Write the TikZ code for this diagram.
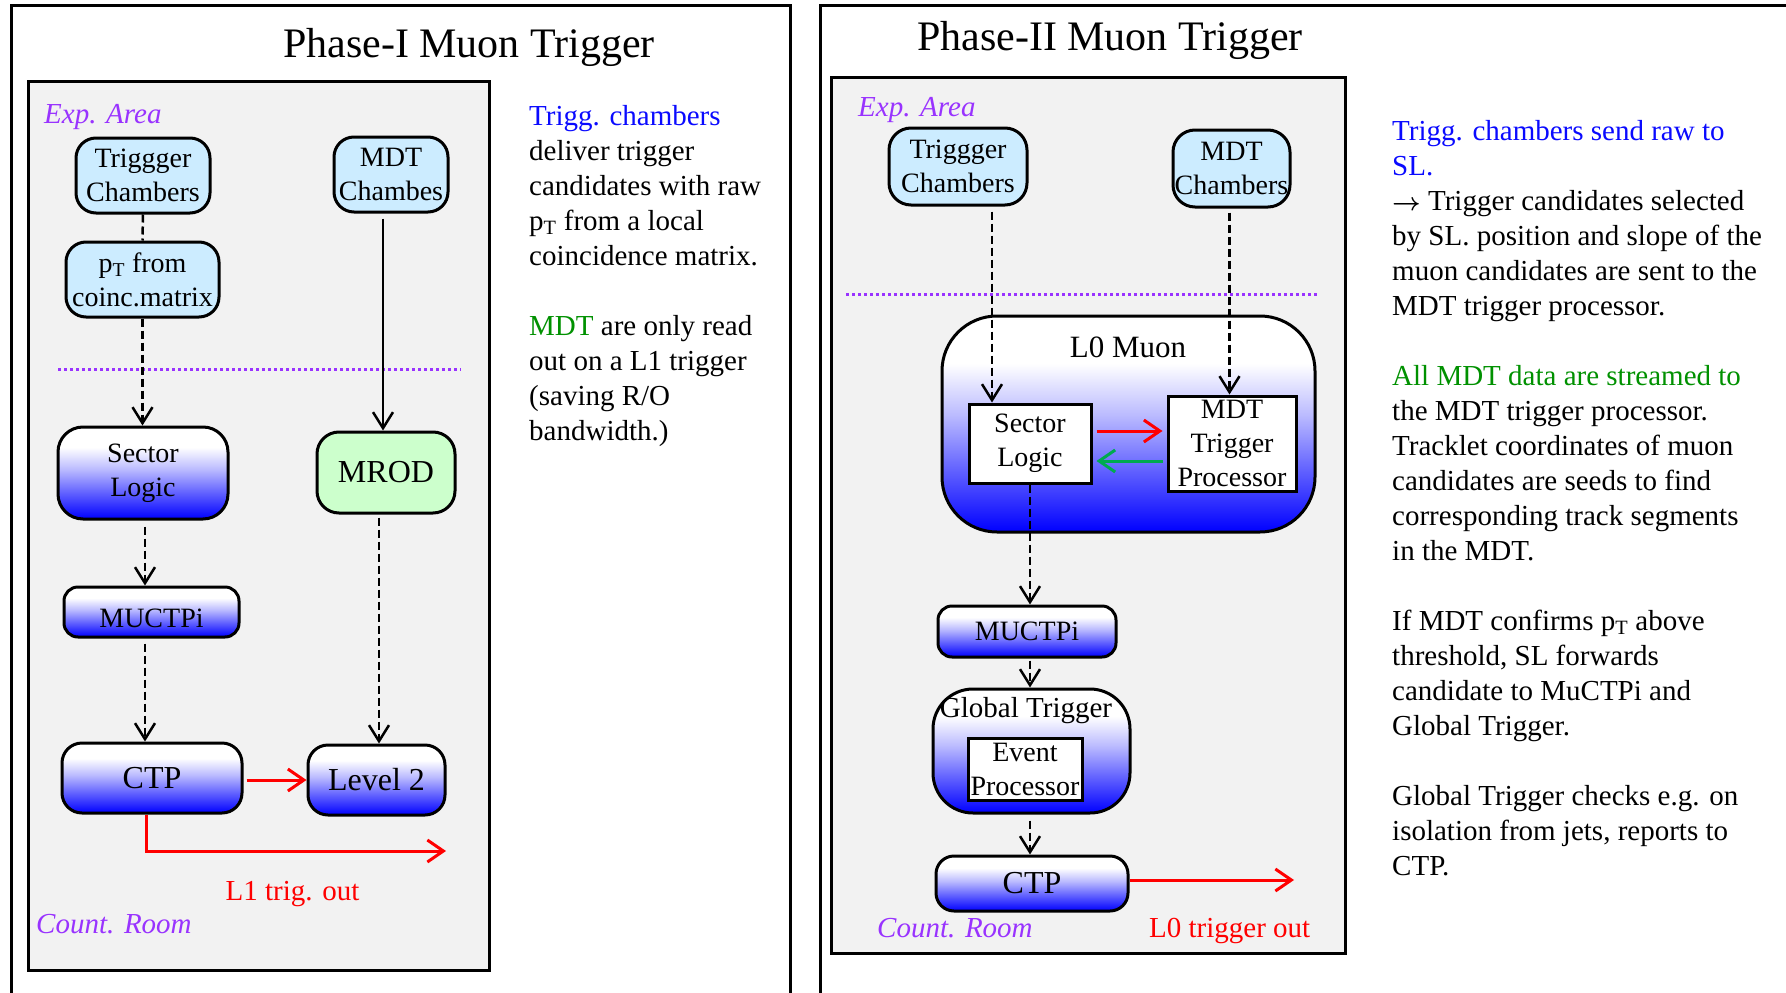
\documentclass[tikz,border=0pt]{standalone}
\usepackage{fontspec}
\setmainfont{Liberation Serif}
\usetikzlibrary{arrows.meta,calc}

\definecolor{boxblue}{RGB}{204,236,255}
\definecolor{boxgreen}{RGB}{204,255,204}
\definecolor{areagray}{RGB}{242,242,242}
\definecolor{zonepurple}{RGB}{153,51,255}
\definecolor{notegreen}{RGB}{0,145,0}
\definecolor{arrowgreen}{RGB}{0,170,80}
\definecolor{noteblue}{RGB}{10,10,255}

% white at the top fading into saturated blue at the bottom
\pgfdeclareverticalshading{fadeblue}{100bp}{color(0bp)=(blue); color(25bp)=(blue); color(40bp)=(blue!60!white); color(52bp)=(blue!27!white); color(64bp)=(white); color(100bp)=(white)}

\tikzset{
  boxtext/.style={font=\fontsize{28}{34}\selectfont, align=center, inner sep=0pt},
  chamber/.style={boxtext, draw, line width=3pt, fill=boxblue, rounded corners=20pt},
  gradbox/.style={boxtext, draw, line width=3pt, shade, shading=fadeblue, rounded corners=#1},
  whitebox/.style={boxtext, draw, line width=3pt, fill=white},
  flow/.style={line width=2.5pt, -{Straight Barb[length=16pt,width=20pt]}},
  dashflow/.style={flow, dash pattern=on 8pt off 4pt},
  redflow/.style={line width=3pt, red, -{Straight Barb[length=16pt,width=22pt]}},
  greenflow/.style={line width=3pt, arrowgreen, -{Straight Barb[length=16pt,width=22pt]}},
  zone/.style={font=\fontsize{29}{35}\selectfont\itshape, text=zonepurple, inner sep=0pt},
  border/.style={draw=zonepurple, line width=3pt, dash pattern=on 3pt off 3pt},
  panel/.style={draw, line width=3pt},
  note/.style={font=\fontsize{29}{35}\selectfont, align=left, inner sep=0pt},
  outlabel/.style={font=\fontsize{29}{35}\selectfont, text=red, inner sep=0pt},
  heading/.style={font=\fontsize{42}{50}\selectfont, inner sep=0pt},
}

\begin{document}
\begin{tikzpicture}[x=1pt,y=-1pt]
\path[use as bounding box] (0,0) rectangle (1786,993);
\clip (0,0) rectangle (1786,993);
\fill[white] (0,0) rectangle (1786,993);

% ---------------- Phase-I ----------------
\draw[panel] (11,5) rectangle (790,1010);
\draw[panel, fill=areagray] (28,81) rectangle (489,970);
\node[heading, anchor=base] (titlea) at (469,57) {Phase-I Muon Trigger};
\node[zone, anchor=base west] (expa) at (44,123) {Exp. Area};
\node[zone, anchor=base west] (counta) at (36,933) {Count. Room};
\draw[border] (58,369) -- (461,369);

\node[chamber, minimum width=134pt, minimum height=75pt] (tca) at (143,175.5) {Triggger\\Chambers};
\node[chamber, minimum width=114pt, minimum height=75pt] (mdta) at (391,174.5) {MDT\\Chambes};
\node[chamber, minimum width=153pt, minimum height=75pt] (pta) at (142.5,279.5) {p\textsubscript{T} from\\coinc.matrix};
\node[gradbox=25pt, minimum width=170pt, minimum height=92pt] (sla) at (143,473) {Sector\\Logic};
\node[chamber, fill=boxgreen, font=\fontsize{32}{38}\selectfont, rounded corners=22pt, minimum width=138pt, minimum height=81pt] (mroda) at (386,472.5) {MROD};
\node[gradbox=14pt, text height=31pt, minimum width=175pt, minimum height=50pt] (muctpia) at (151.5,612) {MUCTPi};
\node[gradbox=20pt, font=\fontsize{32}{38}\selectfont, minimum width=180pt, minimum height=70pt] (ctpa) at (152,778) {CTP};
\node[gradbox=20pt, font=\fontsize{32}{38}\selectfont, minimum width=137pt, minimum height=70pt] (lvla) at (376.5,780) {Level 2};

\draw[line width=2.5pt, dash pattern=on 8pt off 4pt] (tca.south) -- (pta.north);
\draw[dashflow] (pta.south) -- (pta.south |- sla.north);
\coordinate (sa) at ($(sla.south)+(2,6)$);
\draw[dashflow] (sa) -- (sa |- muctpia.north);
\coordinate (ma) at ($(muctpia.south -| sa)+(0,5)$);
\draw[dashflow] (ma) -- (ma |- ctpa.north);
\coordinate (da) at ($(mdta.south)+(-8,5)$);
\draw[flow] (da) -- (da |- mroda.north);
\coordinate (ra) at ($(mroda.south)+(-7,3)$);
\draw[dashflow] (ra) -- (ra |- lvla.north);
\coordinate (ca) at ($(ctpa.east |- lvla.west)+(3,0)$);
\draw[redflow] (ca) -- (lvla.west);
\coordinate (l1out) at (446,851);
\draw[redflow] ($(ctpa.south)+(-6,0)$) |- (l1out);
\node[outlabel, anchor=base] (l1lab) at (292.5,900) {L1 trig. out};

% the base anchor of a multi-line node sits on its last line
\node[note, anchor=base west] (notea) at (529,440) {\textcolor{noteblue}{Trigg. chambers}\\
deliver trigger\\
candidates with raw\\
p\textsubscript{T} from a local\\
coincidence matrix.\\[35pt]
\textcolor{notegreen}{MDT} are only read\\
out on a L1 trigger\\
(saving R/O\\
bandwidth.)};

% ---------------- Phase-II ----------------
\draw[panel] (820,5) rectangle (1800,1010);
\draw[panel, fill=areagray] (831,77) rectangle (1345,953);
\node[heading, anchor=base] (titleb) at (1110,50) {Phase-II Muon Trigger};
\node[zone, anchor=base west] (expb) at (858,116) {Exp. Area};
\node[zone, anchor=base west] (countb) at (877,937) {Count. Room};
\draw[border] (846,294) -- (1318,294);

\node[chamber, rounded corners=22pt, minimum width=138pt, minimum height=77pt] (tcb) at (958,166.5) {Triggger\\Chambers};
\node[chamber, rounded corners=22pt, minimum width=117pt, minimum height=77pt] (mdtb) at (1231.5,168.5) {MDT\\Chambers};
\node[gradbox=55pt, minimum width=373pt, minimum height=216pt] (lzero) at (1128.5,424) {};
\node[font=\fontsize{31}{37}\selectfont, anchor=base, inner sep=0pt] (lzerolab) at (1128,357) {L0 Muon};
\node[whitebox, minimum width=122pt, minimum height=79pt] (slb) at (1030,443.5) {Sector\\Logic};
\node[whitebox, minimum width=128pt, minimum height=95pt] (tpb) at (1232,443.5) {MDT\\Trigger\\Processor};
\node[gradbox=14pt, minimum width=178pt, minimum height=51pt] (muctpib) at (1027,631.5) {MUCTPi};
\node[gradbox=40pt, minimum width=197pt, minimum height=124pt] (gtb) at (1031.5,751) {};
\node[boxtext, font=\fontsize{29}{35}\selectfont, anchor=base] (gtlab) at (1026,717) {Global Trigger};
\node[whitebox, minimum width=114pt, minimum height=62pt] (epb) at (1025,769) {Event\\Processor};
\node[gradbox=18pt, font=\fontsize{32}{38}\selectfont, minimum width=192pt, minimum height=55pt] (ctpb) at (1032,883.5) {CTP};

\coordinate (tb) at ($(tcb.south)+(34,5)$);
\draw[dashflow] (tb) -- (tb |- slb.north);
\coordinate (db) at ($(mdtb.south)+(-2,4)$);
\draw[dashflow] (db) -- (db |- tpb.north);
\coordinate (rb) at ($(slb.east)+(4,-12.5)$);
\draw[redflow] (rb) -- ($(rb -| tpb.west)+(-4,0)$);
\coordinate (gb) at ($(tpb.west)+(-4,17.5)$);
\draw[greenflow] (gb) -- ($(gb -| slb.east)+(4,0)$);
\draw[dashflow] (slb.south) -- (slb.south |- muctpib.north);
\coordinate (ub) at ($(muctpib.south -| slb.south)+(0,2)$);
\draw[dashflow] (ub) -- (ub |- gtb.north);
\coordinate (vb) at ($(gtb.south -| slb.south)+(0,6)$);
\draw[dashflow] (vb) -- (vb |- ctpb.north);
\coordinate (l0out) at (1294,880);
\draw[redflow] (ctpb.east |- l0out) -- (l0out);
\node[outlabel, anchor=base west] (l0lab) at (1149,937) {L0 trigger out};

\node[note, anchor=base west] (noteb) at (1392,875) {\textcolor{noteblue}{Trigg. chambers send raw to}\\
\textcolor{noteblue}{SL.}\\
{\boldmath$\rightarrow$} Trigger candidates selected\\
by SL. position and slope of the\\
muon candidates are sent to the\\
MDT trigger processor.\\[35pt]
\textcolor{notegreen}{All MDT data are streamed to}\\
the MDT trigger processor.\\
Tracklet coordinates of muon\\
candidates are seeds to find\\
corresponding track segments\\
in the MDT.\\[35pt]
If MDT confirms p\textsubscript{T} above\\
threshold, SL forwards\\
candidate to MuCTPi and\\
Global Trigger.\\[35pt]
Global Trigger checks e.g. on\\
isolation from jets, reports to\\
CTP.};
\end{tikzpicture}
\end{document}
